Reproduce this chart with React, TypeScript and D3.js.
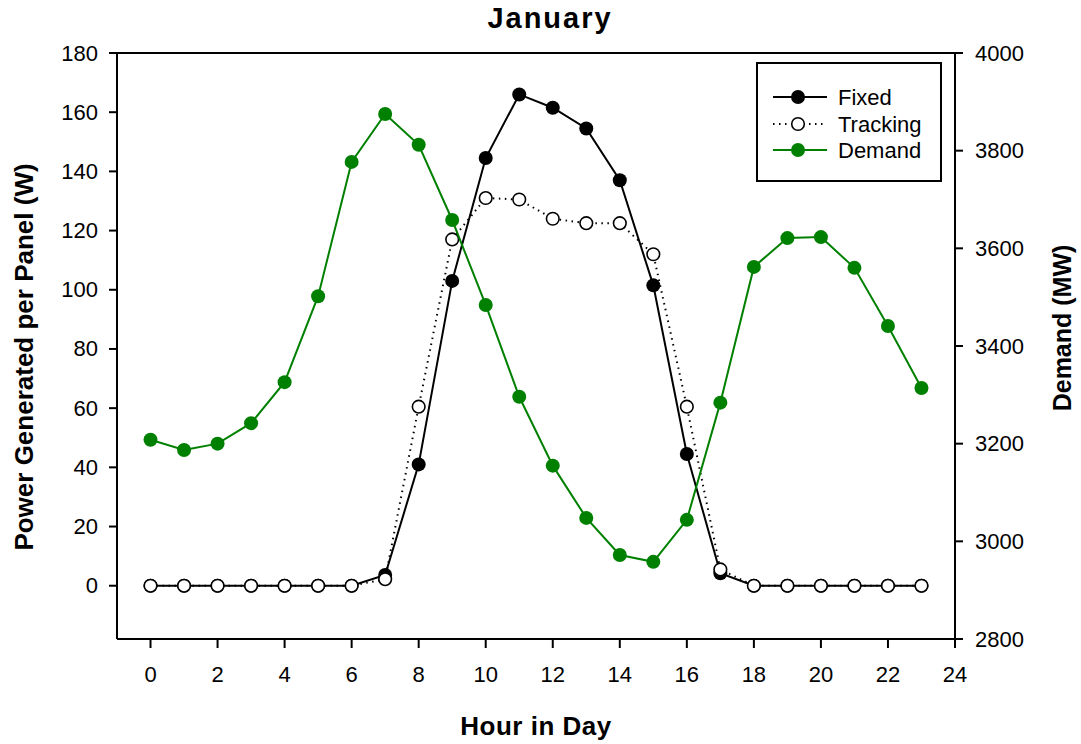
import React from "react";
import * as d3 from "d3";

// hours 0..23
const hours = d3.range(0, 24);

// Power generated per panel (W), left axis
const fixedW = [0, 0, 0, 0, 0, 0, 0, 3.6, 41, 103, 144.5, 166, 161.5, 154.5, 137, 101.5, 44.5, 4.2, 0, 0, 0, 0, 0, 0];
const trackingW = [0, 0, 0, 0, 0, 0, 0, 2.2, 60.5, 117, 131, 130.5, 124, 122.5, 122.5, 112, 60.5, 5.5, 0, 0, 0, 0, 0, 0];

// Demand (MW), right axis
const demandMW = [3208, 3187, 3200, 3242, 3326, 3502, 3777, 3875, 3812, 3658, 3484, 3296, 3155, 3048, 2972, 2958, 3044, 3284, 3562, 3621, 3623, 3560, 3441, 3314];

const xTicks = d3.range(0, 25, 2);
const leftTicks = d3.range(0, 181, 20);
const rightTicks = d3.range(2800, 4001, 200);

const FONT = "'Liberation Sans', Arial, Helvetica, sans-serif";
const GREEN = "#008000";

const W = 1081;
const H = 744;
const plot = { left: 117, right: 955, top: 53, bottom: 639 };

const App: React.FC = () => {
  const x = d3.scaleLinear().domain([-1, 24]).range([plot.left, plot.right]);
  const yL = d3.scaleLinear().domain([-18, 180]).range([plot.bottom, plot.top]);
  const yR = d3.scaleLinear().domain([2800, 4000]).range([plot.bottom, plot.top]);

  const lineL = d3
    .line<number>()
    .x((_, i) => x(hours[i]))
    .y((d) => yL(d));
  const lineR = d3
    .line<number>()
    .x((_, i) => x(hours[i]))
    .y((d) => yR(d));

  // legend layout
  const lg = { x: 757, y: 63, w: 184, h: 118 };
  const legendRows = [
    { label: "Fixed", y: 97, stroke: "#000", dash: undefined, fill: "#000", open: false },
    { label: "Tracking", y: 124, stroke: "#000", dash: "1.5 4.5", fill: "#fff", open: true },
    { label: "Demand", y: 150, stroke: GREEN, dash: undefined, fill: GREEN, open: false },
  ];

  return (
    <svg
      width={W}
      height={H}
      style={{ position: "absolute", left: 0, top: 0, background: "#fff" }}
      fontFamily={FONT}
    >
      {/* frame */}
      <line x1={plot.left} x2={plot.right} y1={plot.top} y2={plot.top} stroke="#000" strokeWidth={2} />
      <line x1={plot.left} x2={plot.right} y1={plot.bottom} y2={plot.bottom} stroke="#000" strokeWidth={2} />
      <line x1={plot.left} x2={plot.left} y1={plot.top} y2={plot.bottom} stroke="#000" strokeWidth={2} />
      <line x1={plot.right} x2={plot.right} y1={plot.top} y2={plot.bottom} stroke="#000" strokeWidth={2} />

      {/* x axis */}
      {xTicks.map((t) => (
        <g key={"x" + t}>
          <line x1={x(t)} x2={x(t)} y1={plot.bottom} y2={plot.bottom + 9} stroke="#000" strokeWidth={2} />
          <text x={x(t)} y={682} fontSize={22} textAnchor="middle">
            {t}
          </text>
        </g>
      ))}

      {/* left axis */}
      {leftTicks.map((t) => (
        <g key={"l" + t}>
          <line x1={plot.left - 8} x2={plot.left} y1={yL(t)} y2={yL(t)} stroke="#000" strokeWidth={2} />
          <text x={98} y={yL(t) + 7.5} fontSize={22} textAnchor="end">
            {t}
          </text>
        </g>
      ))}

      {/* right axis */}
      {rightTicks.map((t) => (
        <g key={"r" + t}>
          <line x1={plot.right} x2={plot.right + 8} y1={yR(t)} y2={yR(t)} stroke="#000" strokeWidth={2} />
          <text x={975} y={yR(t) + 7.5} fontSize={22} textAnchor="start">
            {t}
          </text>
        </g>
      ))}

      {/* titles */}
      <text x={550} y={28} fontSize={29} fontWeight="bold" textAnchor="middle" letterSpacing={2}>
        January
      </text>
      <text x={536} y={735} fontSize={26} fontWeight="bold" textAnchor="middle" letterSpacing={0.5}>
        Hour in Day
      </text>
      <text
        transform={`translate(33,357) rotate(-90)`}
        fontSize={26}
        fontWeight="bold"
        textAnchor="middle"
      >
        Power Generated per Panel (W)
      </text>
      <text
        transform={`translate(1071,328) rotate(-90)`}
        fontSize={25}
        fontWeight="bold"
        textAnchor="middle"
      >
        Demand (MW)
      </text>

      {/* Fixed */}
      <path d={lineL(fixedW) || ""} fill="none" stroke="#000" strokeWidth={2} />
      {fixedW.map((d, i) => (
        <circle key={"f" + i} cx={x(hours[i])} cy={yL(d)} r={7} fill="#000" />
      ))}

      {/* Tracking */}
      <path d={lineL(trackingW) || ""} fill="none" stroke="#000" strokeWidth={2} strokeDasharray="1.5 4.5" />
      {trackingW.map((d, i) => (
        <circle key={"t" + i} cx={x(hours[i])} cy={yL(d)} r={6.3} fill="#fff" stroke="#000" strokeWidth={1.6} />
      ))}

      {/* Demand */}
      <path d={lineR(demandMW) || ""} fill="none" stroke={GREEN} strokeWidth={2} />
      {demandMW.map((d, i) => (
        <circle key={"d" + i} cx={x(hours[i])} cy={yR(d)} r={7} fill={GREEN} />
      ))}

      {/* legend */}
      <rect x={lg.x} y={lg.y} width={lg.w} height={lg.h} fill="#fff" stroke="#000" strokeWidth={2} />
      {legendRows.map((r) => (
        <g key={r.label}>
          <line x1={773} x2={827} y1={r.y} y2={r.y} stroke={r.stroke} strokeWidth={2} strokeDasharray={r.dash} />
          {r.open ? (
            <circle cx={798} cy={r.y} r={6.3} fill="#fff" stroke="#000" strokeWidth={1.6} />
          ) : (
            <circle cx={798} cy={r.y} r={7} fill={r.fill} />
          )}
          <text x={838} y={r.y + 7.5} fontSize={22}>
            {r.label}
          </text>
        </g>
      ))}
    </svg>
  );
};

export default App;
